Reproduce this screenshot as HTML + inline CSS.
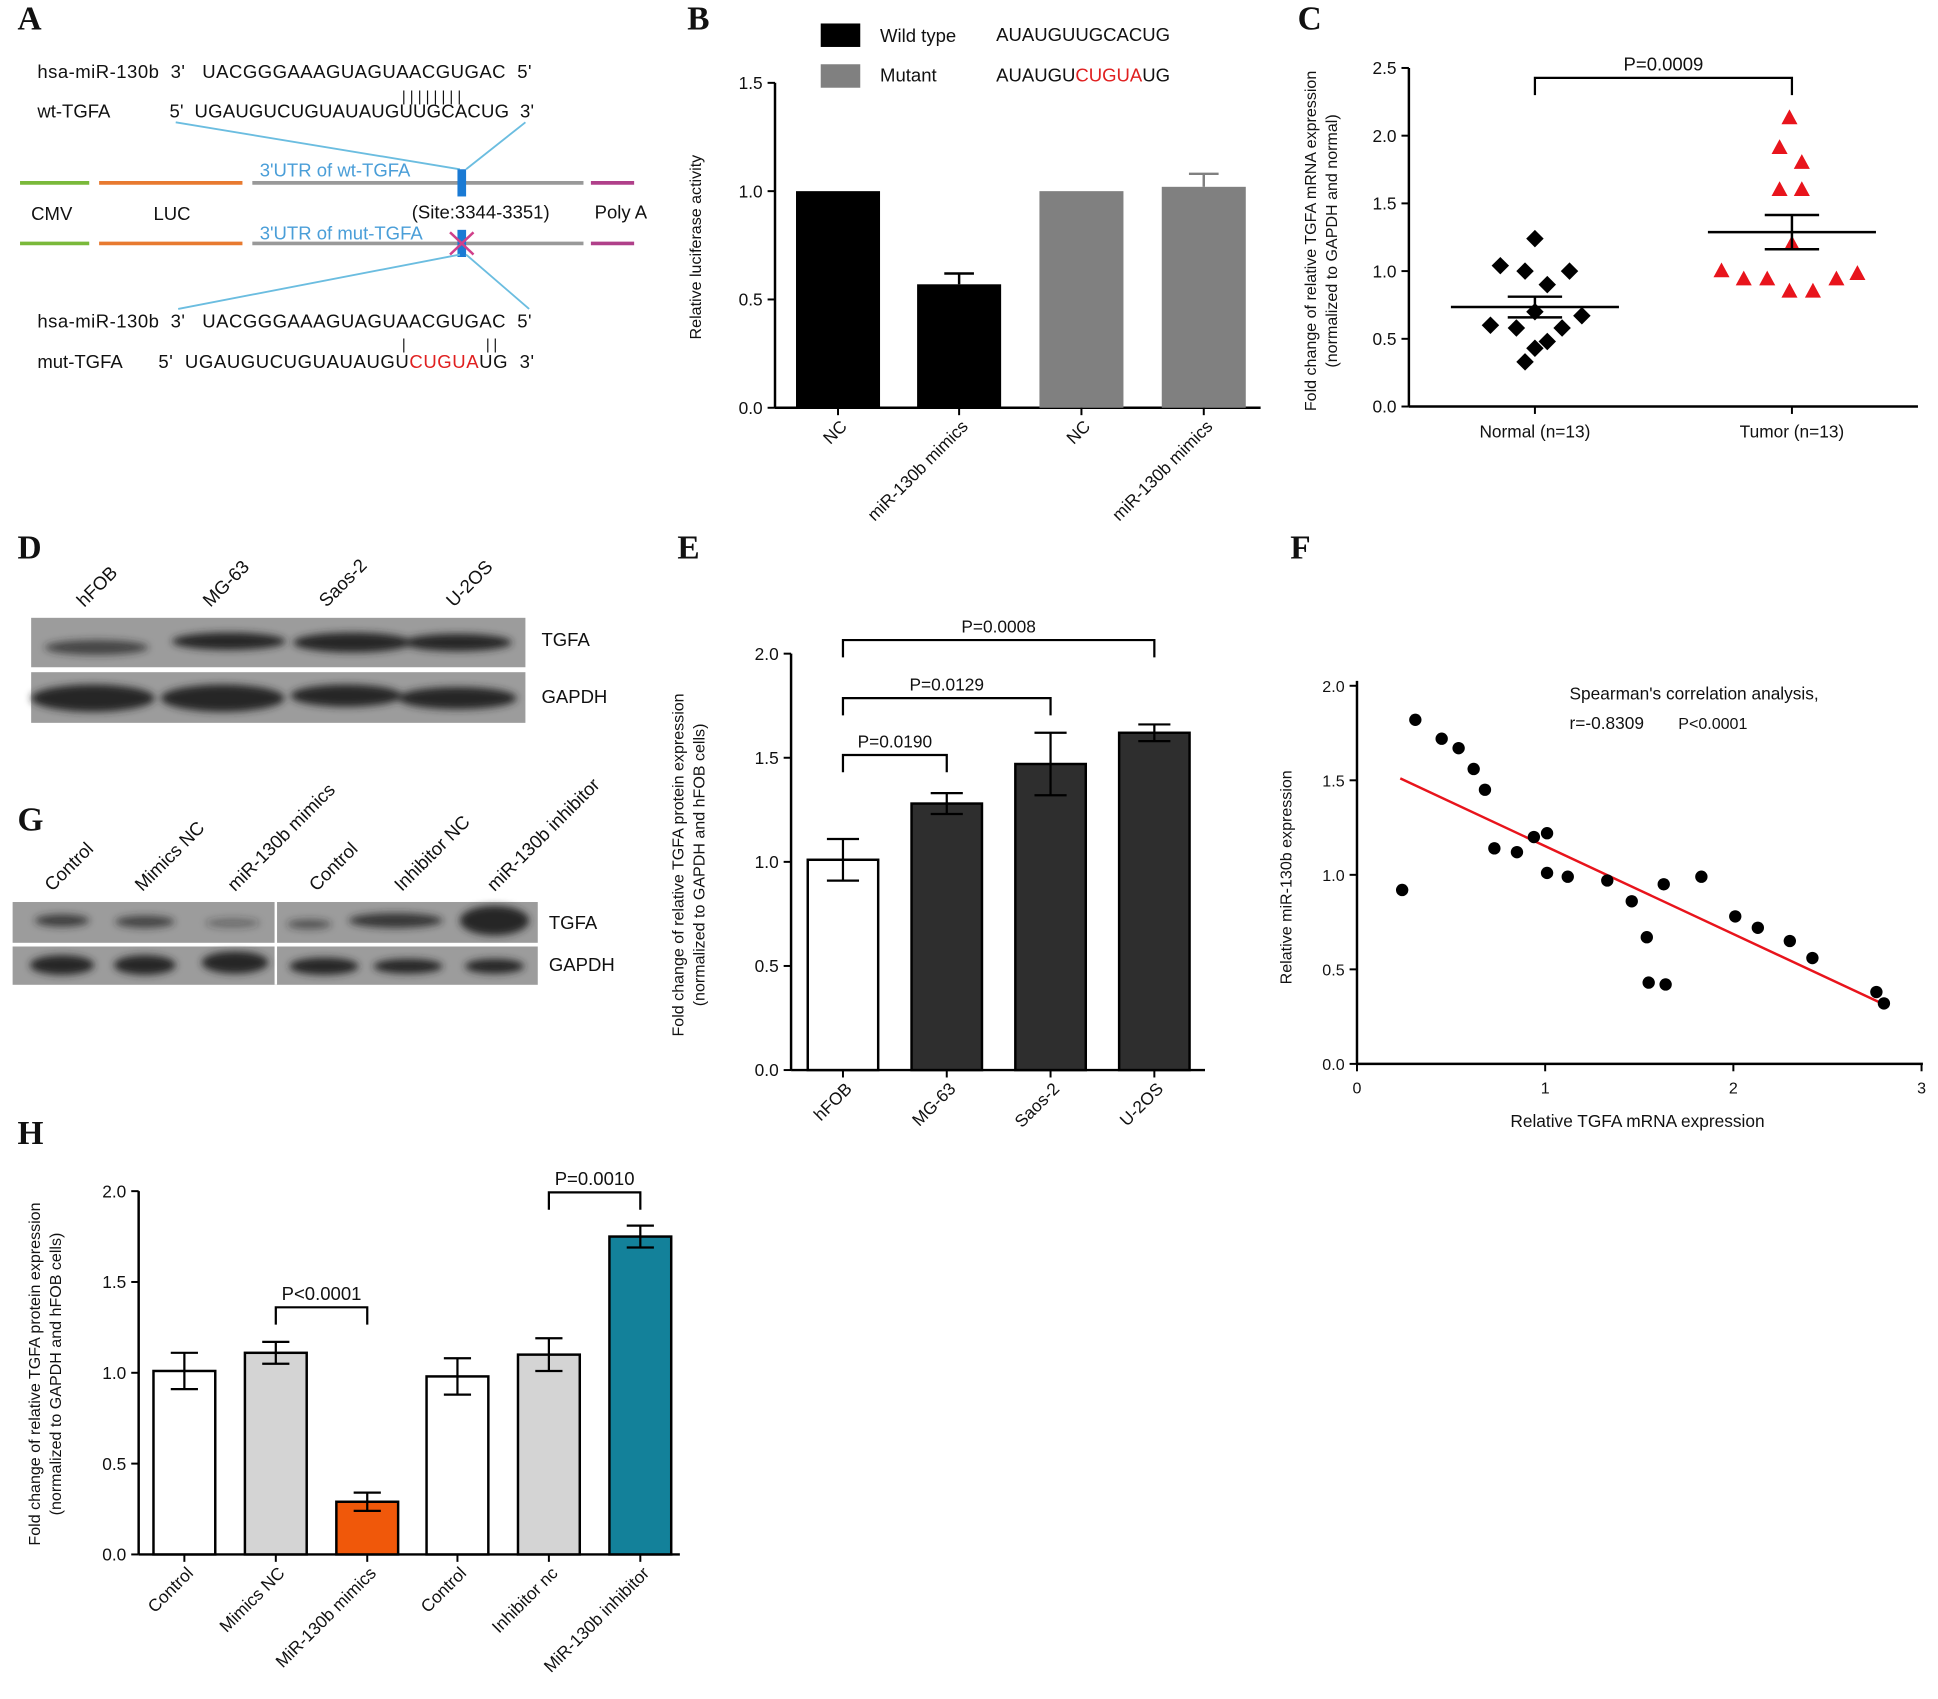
<!DOCTYPE html>
<html><head><meta charset="utf-8"><style>
html,body{margin:0;padding:0;background:#fff}
svg{display:block}
text{font-family:"Liberation Sans",sans-serif;fill:#111}
.pl{font-family:"Liberation Serif",serif;font-weight:bold;font-size:27px}
</style></head><body>
<svg id="fig" width="1938" height="1699" viewBox="0 0 1568 1375" xmlns="http://www.w3.org/2000/svg">
<defs>
<filter id="bl" x="-20%" y="-100%" width="140%" height="300%"><feGaussianBlur stdDeviation="3"/></filter>
</defs>
<!-- Panel A -->
<g font-size="15">
<text class="pl" x="14" y="24">A</text>
<text x="30" y="63" textLength="400">hsa-miR-130b&#160;&#160;3'&#160;&#160;&#160;UACGGGAAAGUAGUAACGUGAC&#160;&#160;5'</text>
<text x="325" y="82" font-size="12" letter-spacing="3.3">||||||||</text>
<text x="30" y="95">wt-TGFA</text>
<text x="137" y="95" textLength="295">5'&#160;&#160;UGAUGUCUGUAUAUGUUGCACUG&#160;&#160;3'</text>
<line x1="142" y1="99" x2="372" y2="137" stroke="#6bbde0" stroke-width="1.5"/>
<line x1="425" y1="99" x2="377" y2="137" stroke="#6bbde0" stroke-width="1.5"/>
<line x1="16" y1="148" x2="72" y2="148" stroke="#7ab93a" stroke-width="3"/>
<line x1="80" y1="148" x2="196" y2="148" stroke="#e87a30" stroke-width="3"/>
<line x1="204" y1="148" x2="472" y2="148" stroke="#999" stroke-width="3"/>
<line x1="478" y1="148" x2="513" y2="148" stroke="#b0408a" stroke-width="3"/>
<rect x="370" y="137" width="7" height="22" fill="#1a7ad4"/>
<text x="210" y="143" style="fill:#4a9ed8">3'UTR of wt-TGFA</text>
<text x="25" y="178">CMV</text><text x="124" y="178">LUC</text>
<text x="333" y="177">(Site:3344-3351)</text><text x="481" y="177">Poly A</text>
<line x1="16" y1="197" x2="72" y2="197" stroke="#7ab93a" stroke-width="3"/>
<line x1="80" y1="197" x2="196" y2="197" stroke="#e87a30" stroke-width="3"/>
<line x1="204" y1="197" x2="472" y2="197" stroke="#999" stroke-width="3"/>
<line x1="478" y1="197" x2="513" y2="197" stroke="#b0408a" stroke-width="3"/>
<rect x="370" y="186" width="7" height="22" fill="#1a7ad4"/>
<line x1="364" y1="188" x2="383" y2="206" stroke="#d0408a" stroke-width="2"/><line x1="383" y1="188" x2="364" y2="206" stroke="#d0408a" stroke-width="2"/>
<text x="210" y="194" style="fill:#4a9ed8">3'UTR of mut-TGFA</text>
<line x1="144" y1="250" x2="372" y2="206" stroke="#6bbde0" stroke-width="1.5"/>
<line x1="428" y1="250" x2="377" y2="206" stroke="#6bbde0" stroke-width="1.5"/>
<text x="30" y="265" textLength="400">hsa-miR-130b&#160;&#160;3'&#160;&#160;&#160;UACGGGAAAGUAGUAACGUGAC&#160;&#160;5'</text>
<text x="325" y="283" font-size="12">|</text><text x="393" y="283" font-size="12" letter-spacing="3">||</text>
<text x="30" y="298">mut-TGFA</text>
<text x="128" y="298" textLength="304">5'&#160;&#160;UGAUGUCUGUAUAUGU<tspan style="fill:#e02020">CUGUA</tspan>UG&#160;&#160;3'</text>
</g>
<text class="pl" x="556" y="24">B</text>
<text class="pl" x="1050" y="24">C</text>
<text class="pl" x="14" y="452">D</text>
<text class="pl" x="548" y="452">E</text>
<text class="pl" x="1044" y="452">F</text>
<text class="pl" x="14" y="672">G</text>
<text class="pl" x="14" y="926">H</text>
<!-- legend B -->
<g font-size="15">
<rect x="664" y="19" width="32" height="19" fill="#000"/><text x="712" y="34">Wild type</text><text x="806" y="33">AUAUGUUGCACUG</text>
<rect x="664" y="52" width="32" height="19" fill="#808080"/><text x="712" y="66">Mutant</text><text x="806" y="66">AUAUGU<tspan style="fill:#e02020">CUGUA</tspan>UG</text>
</g>
<!-- blots -->
<g>
<rect x="25" y="500" width="400" height="40" fill="#9c9c9c"/>
<rect x="25" y="544" width="400" height="41" fill="#9c9c9c"/>
<g filter="url(#bl)" fill="#262626">
<ellipse cx="78" cy="524" rx="42" ry="6" opacity="0.75"/><ellipse cx="185" cy="519" rx="46" ry="7"/><ellipse cx="285" cy="520" rx="48" ry="8"/><ellipse cx="370" cy="520" rx="44" ry="7"/>
<ellipse cx="75" cy="565" rx="50" ry="11"/><ellipse cx="180" cy="565" rx="50" ry="11"/><ellipse cx="280" cy="563" rx="45" ry="9"/><ellipse cx="370" cy="565" rx="48" ry="9"/>
</g>
<text x="438" y="523" font-size="15">TGFA</text><text x="438" y="569" font-size="15">GAPDH</text>
<g font-size="15"><text transform="translate(68,492) rotate(-45)">hFOB</text><text transform="translate(170,492) rotate(-45)">MG-63</text><text transform="translate(264,492) rotate(-45)">Saos-2</text><text transform="translate(367,492) rotate(-45)">U-2OS</text></g>
</g>
<g>
<rect x="10" y="730" width="425" height="33" fill="#9c9c9c"/>
<rect x="10" y="766" width="425" height="31" fill="#9c9c9c"/>
<line x1="223" y1="730" x2="223" y2="797" stroke="#fff" stroke-width="2"/>
<g filter="url(#bl)" fill="#262626">
<ellipse cx="50" cy="745" rx="22" ry="5" opacity="0.8"/><ellipse cx="117" cy="746" rx="24" ry="5" opacity="0.75"/><ellipse cx="188" cy="747" rx="22" ry="4" opacity="0.4"/>
<ellipse cx="250" cy="748" rx="18" ry="4" opacity="0.6"/><ellipse cx="320" cy="745" rx="38" ry="6" opacity="0.85"/><ellipse cx="400" cy="745" rx="28" ry="12"/>
<ellipse cx="50" cy="781" rx="26" ry="8"/><ellipse cx="117" cy="781" rx="25" ry="8"/><ellipse cx="190" cy="779" rx="27" ry="9"/>
<ellipse cx="262" cy="782" rx="28" ry="7"/><ellipse cx="330" cy="782" rx="28" ry="6"/><ellipse cx="400" cy="782" rx="24" ry="6"/>
</g>
<text x="444" y="752" font-size="15">TGFA</text><text x="444" y="786" font-size="15">GAPDH</text>
<g font-size="15"><text transform="translate(42,722) rotate(-45)">Control</text><text transform="translate(115,722) rotate(-45)">Mimics NC</text><text transform="translate(190,722) rotate(-45)">miR-130b mimics</text><text transform="translate(256,722) rotate(-45)">Control</text><text transform="translate(325,722) rotate(-45)">Inhibitor NC</text><text transform="translate(400,722) rotate(-45)">miR-130b inhibitor</text></g>
</g>
<g id="charts"></g>
</svg>
<script>
// ---- data ----
const bCats=["NC","miR-130b mimics","NC","miR-130b mimics"];
const bVals=[1.0,0.57,1.0,1.02];
const bErr=[0,0.05,0,0.06];
const bTicks=[0,0.5,1.0,1.5];
const cNormal=[1.24,1.04,1.0,1.0,0.9,0.7,0.67,0.6,0.58,0.58,0.48,0.43,0.33];
const cTumor=[2.13,1.91,1.8,1.6,1.6,1.2,1.0,0.94,0.94,0.85,0.85,0.94,0.98];
const cTicks=[0,0.5,1.0,1.5,2.0,2.5];
const eCats=["hFOB","MG-63","Saos-2","U-2OS"];
const eVals=[1.01,1.28,1.47,1.62];
const eErr=[0.1,0.05,0.15,0.04];
const eTicks=[0,0.5,1.0,1.5,2.0];
const fX=[0.24,0.31,0.45,0.54,0.62,0.68,0.73,0.85,0.94,1.01,1.01,1.12,1.33,1.46,1.54,1.55,1.63,1.64,1.83,2.01,2.13,2.30,2.42,2.76,2.80];
const fY=[0.92,1.82,1.72,1.67,1.56,1.45,1.14,1.12,1.2,1.22,1.01,0.99,0.97,0.86,0.67,0.43,0.95,0.42,0.99,0.78,0.72,0.65,0.56,0.38,0.32];
const fFit=[[0.23,1.51],[2.81,0.31]];
const fXTicks=[0,1,2,3];
const fYTicks=[0,0.5,1.0,1.5,2.0];
const hCats=["Control","Mimics NC","MiR-130b mimics","Control","Inhibitor nc","MiR-130b inhibitor"];
const hVals=[1.01,1.11,0.29,0.98,1.10,1.75];
const hErr=[0.1,0.06,0.05,0.1,0.09,0.06];
const hTicks=[0,0.5,1.0,1.5,2.0];

const NS="http://www.w3.org/2000/svg";
const root=document.getElementById('charts');
function mk(tag,a,parent){const e=document.createElementNS(NS,tag);for(const k in a)e.setAttribute(k,a[k]);(parent||root).appendChild(e);return e;}
function txt(s,a,parent){const e=mk('text',a,parent);e.textContent=s;return e;}
function lin(x1,y1,x2,y2,w,c){return mk('line',{x1,y1,x2,y2,stroke:c||'#000','stroke-width':w||1.6});}
function yAxis(x,y0,y1,ticks,yf,fs){
  const ax=lin(x,y0,x,y1,2);
  
  
  ticks.forEach(t=>{const y=yf(t);const tk=lin(x-6,y,x,y,1.6);
    
    
    const l=txt(t.toFixed(1),{x:x-10,y:y+5,'text-anchor':'end','font-size':fs||14});
    
    });
}
function errbar(cx,yv,ye,hw){lin(cx,yv,cx,ye,1.8);const c=lin(cx-hw,ye,cx+hw,ye,1.8);
  
  }
function bracket(x1,x2,y,label,fs){mk('path',{d:`M${x1},${y+14}V${y}H${x2}V${y+14}`,fill:'none',stroke:'#000','stroke-width':1.8});
  const t=txt(label,{x:(x1+x2)/2,y:y-6,'text-anchor':'middle','font-size':fs||14});
  
  }
function ytitle(lines,x,y,fs){lines.forEach((s,i)=>{const t=txt(s,{transform:`translate(${x+i*17},${y}) rotate(-90)`,'text-anchor':'middle','font-size':fs||14});
  
  });}

// ---- Panel B ----
(function(){const y0=330,ppu=175.3,yf=v=>y0-v*ppu;const xs=[678,776,875,974],w=68;
 const cols=["#000","#000","#808080","#808080"];
 yAxis(627,y0,67,bTicks,yf);lin(627,y0,1020,y0,2);
 ytitle(["Relative luciferase activity"],567,200,13);
 bCats.forEach((c,i)=>{const r=mk('rect',{x:xs[i]-w/2,y:yf(bVals[i]),width:w,height:y0-yf(bVals[i]),fill:cols[i]});
  
  
  if(bErr[i]>0){lin(xs[i],yf(bVals[i]),xs[i],yf(bVals[i]+bErr[i]),2,cols[i]);lin(xs[i]-12,yf(bVals[i]+bErr[i]),xs[i]+12,yf(bVals[i]+bErr[i]),2,cols[i]);}
  lin(xs[i],y0,xs[i],y0+6,1.6);
  const t=txt(c,{transform:`translate(${xs[i]+8},${y0+16}) rotate(-45)`,'text-anchor':'end','font-size':14});
  
  });
})();

// ---- Panel C ----
(function(){const y0=329,ppu=109.6,yf=v=>y0-v*ppu;
 yAxis(1140,y0,55,cTicks,yf);lin(1140,y0,1552,y0,2);
 ytitle(["Fold change of relative TGFA mRNA expression","(normalized to GAPDH and normal)"],1065,195,13);
 const off=[0,-28,-8,28,10,0,38,-36,-15,22,10,0,-8];
 const offT=[-2,-10,8,-10,8,0,-57,-39,-20,-2,17,36,53];
 function grp(vals,cx,offs,shape,col,name){vals.forEach((v,i)=>{const x=cx+offs[i],y=yf(v);let e;
  if(shape==='d')e=mk('rect',{x:x-5,y:y-5,width:10,height:10,fill:col,transform:`rotate(45 ${x} ${y})`});
  else e=mk('polygon',{points:`${x},${y-7} ${x+6.5},${y+5} ${x-6.5},${y+5}`,fill:col});
  
  });
  const m=vals.reduce((a,b)=>a+b,0)/vals.length;const sd=Math.sqrt(vals.reduce((a,b)=>a+(b-m)*(b-m),0)/(vals.length-1));const se=sd/Math.sqrt(vals.length);
  lin(cx-68,yf(m),cx+68,yf(m),2);lin(cx,yf(m-se),cx,yf(m+se),2);lin(cx-22,yf(m+se),cx+22,yf(m+se),2);lin(cx-22,yf(m-se),cx+22,yf(m-se),2);
 }
 grp(cNormal,1242,off,'d','#000','point-normal');grp(cTumor,1450,offT,'t','#e8141c','point-tumor');
 [[1242,"Normal (n=13)"],[1450,"Tumor (n=13)"]].forEach(([x,s])=>{lin(x,y0,x,y0+6);const t=txt(s,{x,y:y0+25,'text-anchor':'middle','font-size':14});
  
  });
 bracket(1242,1450,63,"P=0.0009",15);
})();

// ---- Panel E ----
(function(){const y0=866,ppu=168.5,yf=v=>y0-v*ppu;const xs=[682,766,850,934],w=57;
 yAxis(640,y0,529,eTicks,yf);lin(640,y0,975,y0,2);
 ytitle(["Fold change of relative TGFA protein expression","(normalized to GAPDH and hFOB cells)"],553,700,13);
 eCats.forEach((c,i)=>{const r=mk('rect',{x:xs[i]-w/2,y:yf(eVals[i]),width:w,height:y0-yf(eVals[i]),fill:i?'#2e2e2e':'#fff',stroke:'#000','stroke-width':2});
  
  
  errbar(xs[i],yf(eVals[i]-eErr[i]),yf(eVals[i]+eErr[i]),13);lin(xs[i]-13,yf(eVals[i]-eErr[i]),xs[i]+13,yf(eVals[i]-eErr[i]),1.8);
  lin(xs[i],y0,xs[i],y0+6);
  const t=txt(c,{transform:`translate(${xs[i]+8},${y0+16}) rotate(-45)`,'text-anchor':'end','font-size':14});
  
  });
 bracket(682,766,611,"P=0.0190");bracket(682,850,565,"P=0.0129");bracket(682,934,518,"P=0.0008");
})();

// ---- Panel F ----
(function(){const x0=1098,y0=861,px=152.3,py=153,xf=v=>x0+v*px,yf=v=>y0-v*py;
 yAxis(x0,y0,551,fYTicks,yf,13);lin(x0,y0,1556,y0,2);
 fXTicks.forEach(t=>{lin(xf(t),y0,xf(t),y0+6);const l=txt(String(t),{x:xf(t),y:y0+24,'text-anchor':'middle','font-size':13});
  
  });
 const xt=txt("Relative TGFA mRNA expression",{x:1325,y:912,'text-anchor':'middle','font-size':14});
 
 
 ytitle(["Relative miR-130b expression"],1045,710,13);
 const fl=lin(xf(fFit[0][0]),yf(fFit[0][1]),xf(fFit[1][0]),yf(fFit[1][1]),2,'#e8141c');
 
 
 fX.forEach((v,i)=>{const c=mk('circle',{cx:xf(v),cy:yf(fY[i]),r:5,fill:'#000'});
  
  });
 const a=txt("Spearman's correlation analysis,",{x:1270,y:566,'font-size':14});
 
 
 const b=txt("r=-0.8309",{x:1270,y:590,'font-size':14});
 
 
 const p=txt("P<0.0001",{x:1358,y:590,'font-size':13});
 
 
})();

// ---- Panel H ----
(function(){const y0=1258,ppu=147,yf=v=>y0-v*ppu;const xs=[149,223,297,370,444,518],w=50;
 const cols=['#fff','#d4d4d4','#f0580a','#fff','#d4d4d4','#13819a'];
 yAxis(112,y0,964,hTicks,yf);lin(112,y0,550,y0,2);
 ytitle(["Fold change of relative TGFA protein expression","(normalized to GAPDH and hFOB cells)"],32,1112,13);
 hCats.forEach((c,i)=>{const r=mk('rect',{x:xs[i]-w/2,y:yf(hVals[i]),width:w,height:y0-yf(hVals[i]),fill:cols[i],stroke:'#000','stroke-width':2});
  
  
  errbar(xs[i],yf(hVals[i]-hErr[i]),yf(hVals[i]+hErr[i]),11);lin(xs[i]-11,yf(hVals[i]-hErr[i]),xs[i]+11,yf(hVals[i]-hErr[i]),1.8);
  lin(xs[i],y0,xs[i],y0+6);
  const t=txt(c,{transform:`translate(${xs[i]+8},${y0+16}) rotate(-45)`,'text-anchor':'end','font-size':14});
  
  });
 bracket(223,297,1058,"P<0.0001",15);bracket(444,518,965,"P=0.0010",15);
})();
</script>
</body></html>
